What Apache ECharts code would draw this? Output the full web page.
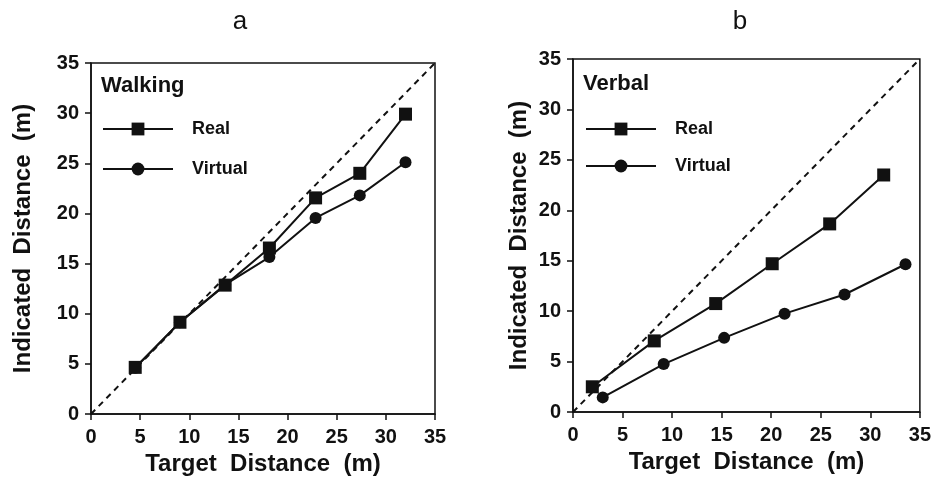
<!DOCTYPE html>
<html>
<head>
<meta charset="utf-8">
<script src="https://cdn.jsdelivr.net/npm/echarts@6/dist/echarts.min.js"></script>
<style>
  html, body { margin: 0; padding: 0; background: #ffffff; }
  #chart { width: 934px; height: 487px; }
</style>
</head>
<body>
<div id="chart"></div>
<script>
// ---- data ----
const panelTitles = ['a', 'b'];
const panelLabels = ['Walking', 'Verbal'];
const seriesNames = ['Real', 'Virtual'];
const axisTicks = [0, 5, 10, 15, 20, 25, 30, 35];
const xAxisTitle = 'Target  Distance  (m)';
const yAxisTitle = 'Indicated  Distance  (m)';

const walkRealX = [4.5, 9.05, 13.65, 18.15, 22.85, 27.35, 32.0];
const walkRealY = [4.65, 9.15, 12.85, 16.55, 21.55, 24.0, 29.9];
const walkVirtX = [4.5, 9.05, 13.65, 18.15, 22.85, 27.35, 32.0];
const walkVirtY = [4.6, 9.15, 12.9, 15.65, 19.55, 21.8, 25.1];

const verbRealX = [1.95, 8.2, 14.4, 20.1, 25.9, 31.35];
const verbRealY = [2.5, 7.05, 10.75, 14.7, 18.65, 23.5];
const verbVirtX = [3.0, 9.15, 15.25, 21.35, 27.4, 33.55];
const verbVirtY = [1.45, 4.75, 7.35, 9.75, 11.65, 14.65];

const identityLine = [0, 35];

// ---- helpers ----
const FONT = '"Liberation Sans", Arial, Helvetica, sans-serif';
const INK = '#111111';
const zip = (xs, ys) => xs.map((x, i) => [x, ys[i]]);

const grids = [
  { left: 91, top: 63, width: 344, height: 351 },
  { left: 573, top: 59, width: 347, height: 353 }
];

function makeX(gi) {
  return {
    type: 'value', gridIndex: gi,
    min: axisTicks[0], max: axisTicks[axisTicks.length - 1], interval: 5,
    name: xAxisTitle, nameLocation: 'middle', nameGap: 37,
    nameTextStyle: { fontFamily: FONT, fontWeight: 'bold', fontSize: 24, color: INK },
    axisLine: { show: true, onZero: false, lineStyle: { color: INK, width: 1.5 } },
    axisTick: { show: true, inside: false, length: 6, lineStyle: { color: INK, width: 1.5 } },
    axisLabel: { margin: 13, fontFamily: FONT, fontWeight: 'bold', fontSize: 20, color: INK },
    splitLine: { show: false }
  };
}
function makeY(gi, gap) {
  return {
    type: 'value', gridIndex: gi,
    min: axisTicks[0], max: axisTicks[axisTicks.length - 1], interval: 5,
    name: yAxisTitle, nameLocation: 'middle', nameGap: gap,
    nameTextStyle: { fontFamily: FONT, fontWeight: 'bold', fontSize: 24, color: INK },
    axisLine: { show: true, onZero: false, lineStyle: { color: INK, width: 1.5 } },
    axisTick: { show: true, inside: false, length: 6, lineStyle: { color: INK, width: 1.5 } },
    axisLabel: { margin: 12, fontFamily: FONT, fontWeight: 'bold', fontSize: 20, color: INK },
    splitLine: { show: false }
  };
}

function dataSeries(name, gi, xs, ys, symbol, size, z) {
  return {
    name: name, type: 'line', xAxisIndex: gi, yAxisIndex: gi,
    data: zip(xs, ys),
    symbol: symbol, symbolSize: size, showSymbol: true,
    lineStyle: { color: INK, width: 2 },
    itemStyle: { color: INK, borderColor: INK, borderWidth: 0 },
    z: z, animation: false, silent: true
  };
}
function identitySeries(gi) {
  return {
    name: 'identity', type: 'line', xAxisIndex: gi, yAxisIndex: gi,
    data: zip(identityLine, identityLine),
    symbol: 'none',
    lineStyle: { color: INK, width: 2, type: [6, 5] },
    z: 1, animation: false, silent: true
  };
}

function legendFor(left, top, gap) {
  return {
    orient: 'vertical', left: left, top: top,
    itemWidth: 70, itemHeight: 16, itemGap: gap,
    selectedMode: false,
    data: seriesNames,
    lineStyle: { width: 2, color: INK },
    textStyle: { fontFamily: FONT, fontWeight: 'bold', fontSize: 18, color: INK, padding: [0, 0, 0, 14] }
  };
}

function label(text, x, y, size, weight) {
  return {
    type: 'text', x: x, y: y, silent: true,
    style: {
      text: text, fill: INK, textAlign: 'center', textVerticalAlign: 'middle',
      font: weight + ' ' + size + 'px ' + FONT
    }
  };
}
function labelLeft(text, x, y, size) {
  return {
    type: 'text', x: x, y: y, silent: true,
    style: {
      text: text, fill: INK, textAlign: 'left', textVerticalAlign: 'middle',
      font: 'bold ' + size + 'px ' + FONT
    }
  };
}

const chart = echarts.init(document.getElementById('chart'), null, { renderer: 'canvas' });
chart.setOption({
  animation: false,
  backgroundColor: '#ffffff',
  grid: grids.map(g => Object.assign({ show: true, borderColor: INK, borderWidth: 1.5, backgroundColor: 'transparent' }, g)),
  xAxis: [makeX(0), makeX(1)],
  yAxis: [makeY(0, 56), makeY(1, 42)],
  legend: [legendFor(97, 115, 22), legendFor(580, 115, 19)],
  graphic: [
    label(panelTitles[0], 240, 22, 26, 'normal'),
    label(panelTitles[1], 740, 22, 26, 'normal'),
    labelLeft(panelLabels[0], 101, 86, 22),
    labelLeft(panelLabels[1], 583, 84, 22)
  ],
  series: [
    identitySeries(0),
    dataSeries(seriesNames[1], 0, walkVirtX, walkVirtY, 'circle', 12, 3),
    dataSeries(seriesNames[0], 0, walkRealX, walkRealY, 'rect', 13, 4),
    identitySeries(1),
    dataSeries(seriesNames[1], 1, verbVirtX, verbVirtY, 'circle', 12, 3),
    dataSeries(seriesNames[0], 1, verbRealX, verbRealY, 'rect', 13, 4)
  ]
});
</script>
</body>
</html>
